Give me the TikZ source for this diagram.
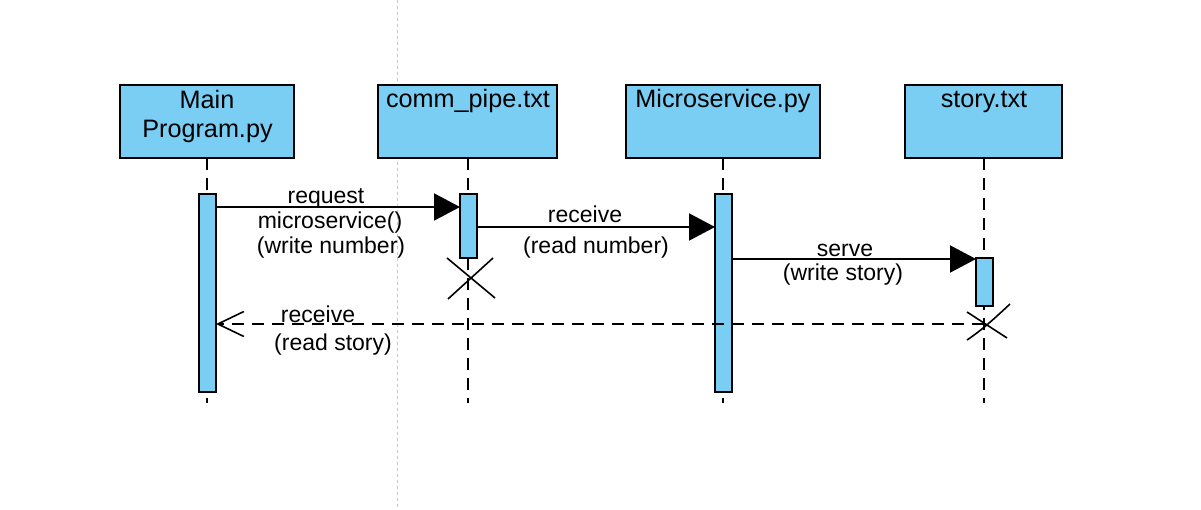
\documentclass[tikz,border=0pt]{standalone}
\usepackage{fontspec}
\setmainfont{Liberation Sans}
\usetikzlibrary{arrows.meta}
\definecolor{actblue}{RGB}{122,206,244}
\begin{document}
\begin{tikzpicture}[x=1pt,y=-1pt,
  box/.style={draw=black, line width=2pt, fill=actblue, inner sep=0pt, outer sep=0pt},
  actbar/.style={draw=black, line width=1.5pt, fill=actblue, inner sep=0pt, outer sep=0pt, minimum width=17pt},
  lifeline/.style={draw=black, line width=2pt, dash pattern=on 12pt off 8pt},
  txt/.style={inner sep=0pt, anchor=base, font=\fontsize{23}{28}\selectfont},
  htxt/.style={inner sep=0pt, anchor=base, font=\fontsize{25.2}{30}\selectfont},
  msg/.style={draw=black, line width=2pt, -{Triangle[length=26pt,width=27pt]}},
  ret/.style={draw=black, line width=2pt, dash pattern=on 12pt off 8pt, -{Straight Barb[length=26pt,width=25pt,line width=1.6pt]}},
  cross/.style={draw=black, line width=1.6pt}]
\useasboundingbox[fill=white] (0,0) rectangle (1201,510);
\draw[gray!45, line width=0.8pt, dash pattern=on 3pt off 3pt] (397,0) -- (397,510);

% heads
\node[box, minimum width=174pt, minimum height=73pt] (main) at (207,121.5) {};
\node[box, minimum width=179pt, minimum height=73pt] (comm) at (467.5,121.5) {};
\node[box, minimum width=194pt, minimum height=73pt] (micro) at (723,121.5) {};
\node[box, minimum width=157pt, minimum height=73pt] (story) at (983.5,121.5) {};
\node[htxt] (mainA) at (207,109) {Main};
\node[htxt] (mainB) at (207.5,138) {Program.py};
\node[htxt] (commT) at (468,108) {comm\_pipe.txt};
\node[htxt] (microT) at (723,108) {Microservice.py};
\node[htxt] (storyT) at (984,108) {story.txt};

% lifeline ends
\coordinate (mainend) at (207,403);
\coordinate (commend) at (468,403);
\coordinate (microend) at (723,403);
\coordinate (storyend) at (984,403);
\draw[lifeline] (main.south -| 207,0) -- (mainend);
\draw[lifeline] (comm.south -| 468,0) -- (commend);
\draw[lifeline] (micro.south -| 723,0) -- (microend);
\draw[lifeline] (story.south -| 984,0) -- (storyend);

% activation bars
\node[actbar, minimum height=198pt] (mainbar) at (207.5,293) {};
\node[actbar, minimum height=64pt] (commbar) at (468.5,226) {};
\node[actbar, minimum height=198pt] (microbar) at (723.5,293) {};
\node[actbar, minimum height=48pt] (storybar) at (984.5,282) {};

% destruction crosses
\draw[cross] (447,258) -- (495,298);
\draw[cross] (493,258) -- (448,299);
\draw[cross] (967,312) -- (1007,338);
\draw[cross] (1010,304) .. controls (995,318) and (982,330) .. (967,340);

% messages
\draw[msg] (mainbar.east |- 0,207) -- (commbar.west |- 0,207);
\node[txt] (m1a) at (326,204) {request};
\node[txt] (m1b) at (330,229) {microservice()};
\node[txt] (m1c) at (331,254) {(write number)};

\draw[msg] (commbar.east |- 0,227) -- (microbar.west |- 0,227);
\node[txt] (m2a) at (585,222.5) {receive};
\node[txt] (m2b) at (596,253.5) {(read number)};

\draw[msg] (microbar.east |- 0,259) -- (storybar.west |- 0,259);
\node[txt] (m3a) at (845,256.5) {serve};
\node[txt] (m3b) at (843,280.5) {(write story)};

\coordinate (storyret) at (984,324);
\draw[ret] (storyret) -- (mainbar.east |- 0,324);
\node[txt] (m4a) at (318,323) {receive};
\node[txt] (m4b) at (333,350) {(read story)};
\end{tikzpicture}
\end{document}
